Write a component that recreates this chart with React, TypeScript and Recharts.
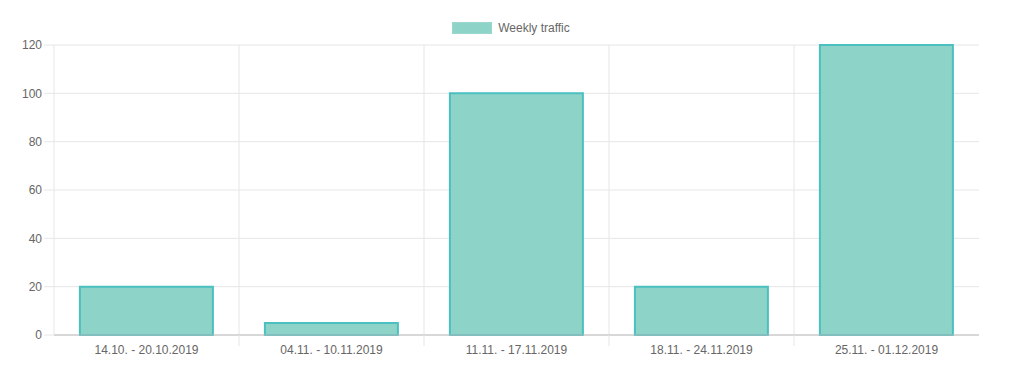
import { BarChart, Bar, XAxis, YAxis, CartesianGrid, Legend } from "recharts";

const weeks = [
  "14.10. - 20.10.2019",
  "04.11. - 10.11.2019",
  "11.11. - 17.11.2019",
  "18.11. - 24.11.2019",
  "25.11. - 01.12.2019",
];
const traffic = [20, 5, 100, 20, 120];
const yTicks = [0, 20, 40, 60, 80, 100, 120];

const data = weeks.map((w, i) => ({ week: w, traffic: traffic[i] }));

const FILL = "#8ed3c7";
const STROKE = "#4bc0c0";
const GRID = "#e6e6e6";
const FONT = "'Liberation Sans', Arial, Helvetica, sans-serif";

const W = 1016;
const H = 371;
const M = { top: 31, right: 37, bottom: 0, left: 0 };
const Y_W = 54;
const BAND = (W - M.left - M.right - Y_W) / weeks.length;

const LegendBox = () => (
  <div style={{ display: "flex", justifyContent: "center", alignItems: "center", fontFamily: FONT, fontSize: 12, color: "#666", paddingLeft: 6 }}>
    <span style={{ display: "inline-block", width: 40, height: 12, background: FILL, boxSizing: "border-box", border: "1px solid #9ad8cf", marginRight: 6 }} />
    <span>Weekly traffic</span>
  </div>
);

const WeekTick = (props: any) => {
  const { x, y, payload, index } = props;
  const lx = x - BAND / 2;
  return (
    <g>
      {index > 0 && <line x1={lx} x2={lx} y1={y - 10} y2={y + 1} stroke={GRID} />}
      <text x={x} y={y} dy="0.71em" textAnchor="middle" fill="#666" fontSize={12}>
        {payload.value}
      </text>
    </g>
  );
};

const App = () => {
  return (
    <div style={{ marginLeft: -8, marginTop: -8, width: W, height: H }}>
      <BarChart
        width={W}
        height={H}
        data={data}
        margin={M}
        barCategoryGap="14%"
        style={{ fontFamily: FONT }}
      >
        <Legend
          verticalAlign="top"
          content={<LegendBox />}
          wrapperStyle={{ top: 21, left: 0, width: W, height: 14 }}
        />
        <CartesianGrid
          stroke={GRID}
          verticalCoordinatesGenerator={({ offset }: any) =>
            weeks.slice(1).map((_, i) => offset.left + (offset.width * (i + 1)) / weeks.length)
          }
        />
        <XAxis
          dataKey="week"
          tickLine={false}
          tickSize={0}
          tickMargin={10}
          axisLine={{ stroke: "#bcbcbc" }}
          tick={<WeekTick />}
          height={36}
          interval={0}
        />
        <YAxis
          domain={[0, 120]}
          ticks={yTicks}
          width={Y_W}
          tickSize={10}
          tickMargin={2}
          axisLine={{ stroke: GRID }}
          tickLine={{ stroke: GRID }}
          tick={{ fill: "#666", fontSize: 12 }}
        />
        <Bar dataKey="traffic" fill={FILL} stroke={STROKE} strokeWidth={2} isAnimationActive={false} />
      </BarChart>
    </div>
  );
};

export default App;
